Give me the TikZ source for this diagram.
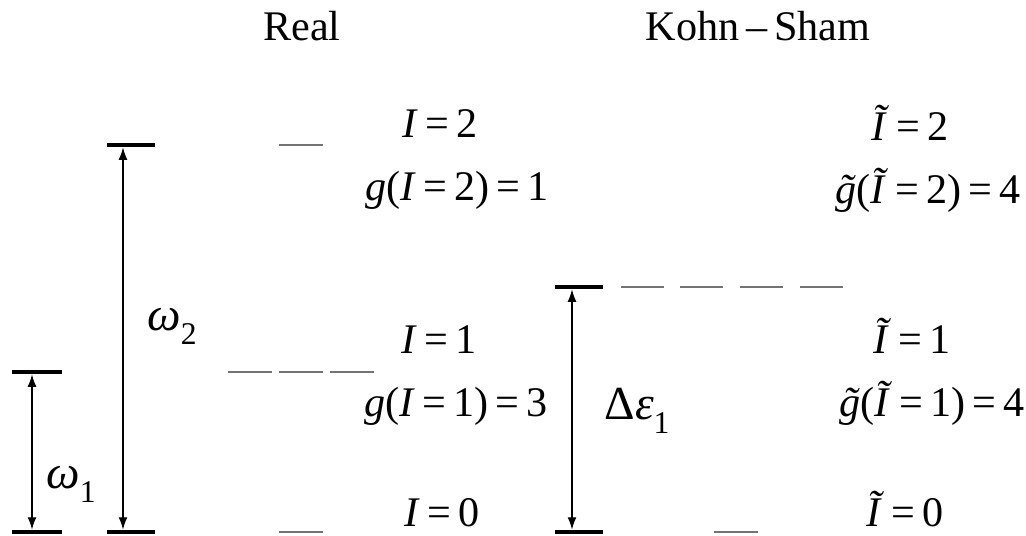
\documentclass[tikz,border=0pt]{standalone}
\usepackage{fontspec}
\setmainfont{Liberation Serif}
\usetikzlibrary{arrows.meta}

\newcommand{\eqs}{\hspace{0.17em}=\hspace{0.17em}}
\newcommand{\lowsub}[1]{\raisebox{-0.3em}{\fontsize{18}{18}\selectfont #1}}
\newcommand{\tildeg}{\ooalign{\textit{g}\cr\hidewidth\kern0.08em\textit{˜}\hidewidth\cr}}

\begin{document}
\begin{tikzpicture}[x=0.02cm, y=-0.02cm, >={Latex[length=7pt,width=5pt]},
      font=\fontsize{24}{28}\selectfont,
      lvl/.style={line width=2.8pt},
      deg/.style={line width=0.9pt, draw=black!55},
      gap/.style={<->, line width=0.6pt, shorten <=1.4pt, shorten >=1.4pt},
      lab/.style={anchor=base, inner sep=0pt},
      big/.style={font=\fontsize{27}{30}\selectfont}]
      \useasboundingbox (0,0) rectangle (1026,535);
      % titles
      \node[lab] (real) at (302,40) {Real};
      \node[lab] (ks) at (758,40) {Kohn\,–\,Sham};
      % real excitations
      \draw[lvl] (12,372) -- (62,372);
      \draw[lvl] (12,532) -- (62,532);
      \draw[lvl] (107,145) -- (155,145);
      \draw[lvl] (107,532) -- (155,532);
      \coordinate (w1top) at (32,372);
      \coordinate (w1bot) at (32,532);
      \coordinate (w2top) at (123,145);
      \coordinate (w2bot) at (123,532);
      \draw[gap] (w1top) -- (w1bot);
      \draw[gap] (w2top) -- (w2bot);
      \node[lab, big] (w1) at (71,488) {\textit{ω}\lowsub{1}};
      \node[lab, big] (w2) at (172,330) {\textit{ω}\lowsub{2}};
      % real degeneracies
      \draw[deg] (279,145) -- (323,145);
      \foreach \x in {228,279,330}
        \draw[deg] (\x,372) -- ++(44,0);
      \draw[deg] (279,532) -- (323,532);
      \node[lab] (i2) at (440,137) {\textit{I}\eqs 2};
      \node[lab] (g2) at (457,200) {\textit{g}(\textit{I}\eqs 2)\eqs 1};
      \node[lab] (i1) at (439,353) {\textit{I}\eqs 1};
      \node[lab] (g1) at (456,416) {\textit{g}(\textit{I}\eqs 1)\eqs 3};
      \node[lab] (i0) at (442,526) {\textit{I}\eqs 0};
      % Kohn-Sham excitation
      \draw[lvl] (555,287) -- (603,287);
      \draw[lvl] (555,532) -- (603,532);
      \coordinate (e1top) at (572,287);
      \coordinate (e1bot) at (572,532);
      \draw[gap] (e1top) -- (e1bot);
      \node[lab, big] (de1) at (637,419) {Δ\textit{ε}\lowsub{1}};
      % Kohn-Sham degeneracies
      \foreach \x in {621,680,740,800}
        \draw[deg] (\x,287) -- ++(43,0);
      \draw[deg] (714,532) -- (758,532);
      \node[lab] (ti2) at (910,140) {\textit{Ĩ}\eqs 2};
      \node[lab] (tg2) at (928,203) {\tildeg(\textit{Ĩ}\eqs 2)\eqs 4};
      \node[lab] (ti1) at (912,353) {\textit{Ĩ}\eqs 1};
      \node[lab] (tg1) at (932,416) {\tildeg(\textit{Ĩ}\eqs 1)\eqs 4};
      \node[lab] (ti0) at (905,526) {\textit{Ĩ}\eqs 0};
\end{tikzpicture}
\end{document}
